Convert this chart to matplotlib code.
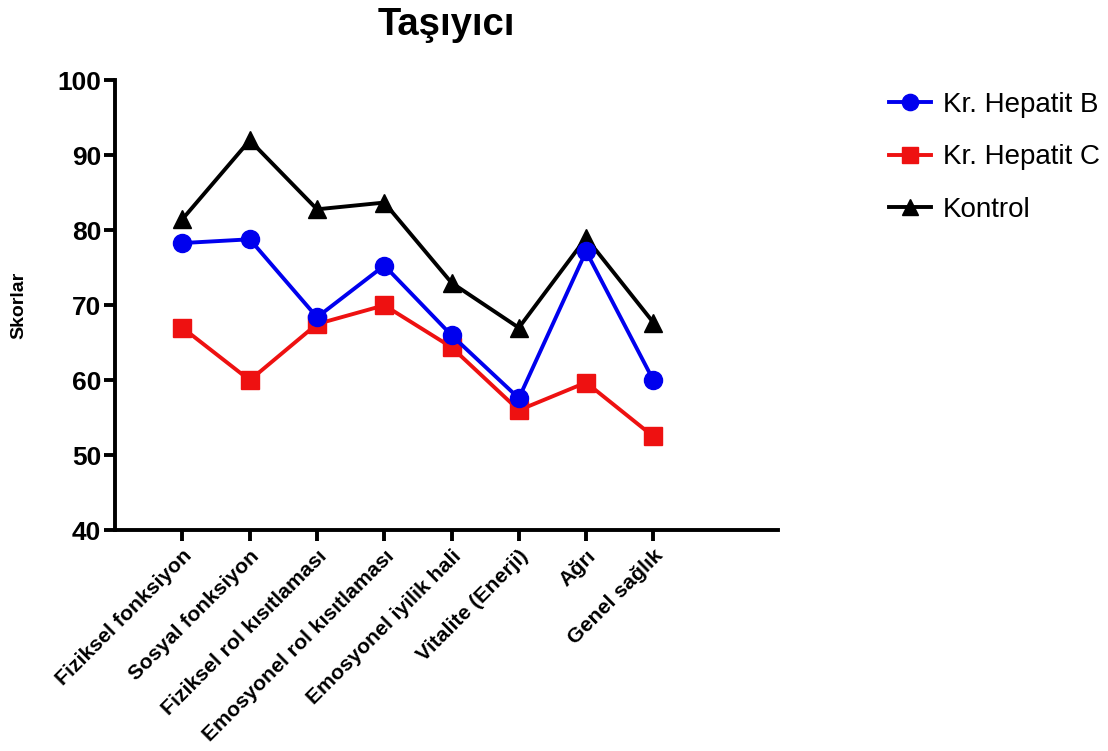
import matplotlib.pyplot as plt

plt.rcParams["font.family"] = ["Liberation Sans", "DejaVu Sans"]

categories = [
    "Fiziksel fonksiyon",
    "Sosyal fonksiyon",
    "Fiziksel rol kısıtlaması",
    "Emosyonel rol kısıtlaması",
    "Emosyonel iyilik hali",
    "Vitalite (Enerji)",
    "Ağrı",
    "Genel sağlık",
]
hepatit_b = [78.3, 78.8, 68.4, 75.3, 66.0, 57.6, 77.2, 60.0]
hepatit_c = [67.0, 60.0, 67.5, 70.0, 64.4, 56.0, 59.7, 52.5]
kontrol = [81.5, 92.0, 82.8, 83.7, 73.0, 67.0, 79.0, 67.7]

fig = plt.figure(figsize=(11.08, 7.51), dpi=100)
ax = fig.add_axes([0.104, 0.294, 0.598, 0.599])

x = range(len(categories))
ax.plot(x, hepatit_b, color="#0000ee", marker="o", markersize=13, linewidth=2.8,
        label="Kr. Hepatit B", zorder=3)
ax.plot(x, hepatit_c, color="#ee1111", marker="s", markersize=13, linewidth=2.8,
        label="Kr. Hepatit C", zorder=2)
ax.plot(x, kontrol, color="black", marker="^", markersize=13, linewidth=2.8,
        label="Kontrol", zorder=1)

ax.set_xlim(-1, 8.85)
ax.set_ylim(40, 100)
ax.set_yticks(range(40, 101, 10))
ax.set_xticks(list(x))
ax.set_xticklabels(categories, rotation=45, ha="right", rotation_mode="anchor",
                   fontsize=15.3, fontweight="bold")
for lab in ax.get_yticklabels():
    lab.set_fontsize(19)
    lab.set_fontweight("bold")

for side in ["top", "right"]:
    ax.spines[side].set_visible(False)
for side in ["left", "bottom"]:
    ax.spines[side].set_linewidth(2.8)
ax.tick_params(axis="both", width=2.8, length=8, direction="out")
ax.tick_params(axis="y", pad=2)

ax.set_ylabel("Skorlar", fontsize=14, fontweight="bold", labelpad=22)
ax.set_title("Taşıyıcı", fontsize=27.5, fontweight="bold", pad=33)

ax.legend(loc="upper left", bbox_to_anchor=(1.13, 1.03), frameon=False,
          fontsize=20, handlelength=1.5, labelspacing=0.95, handletextpad=0.45,
          markerscale=0.9)

plt.savefig("out.png", dpi=100)
